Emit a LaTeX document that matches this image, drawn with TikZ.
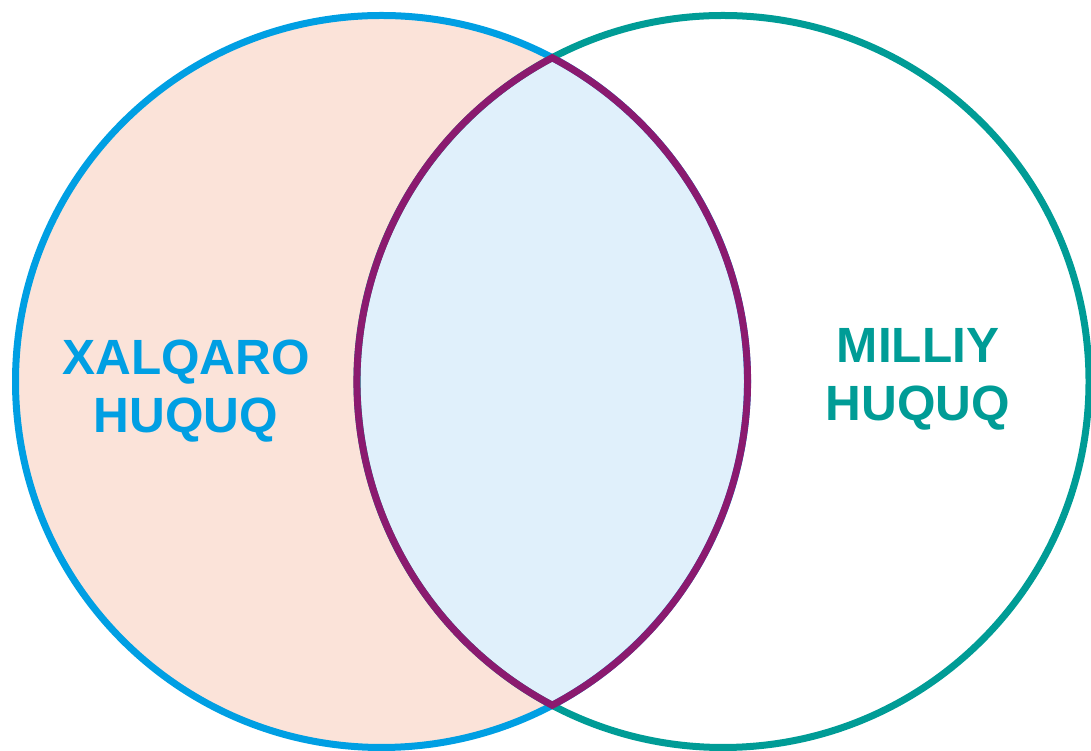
\documentclass[tikz,border=0pt]{standalone}
\usepackage{fontspec}
\setmainfont{Liberation Sans}
\definecolor{lblue}{HTML}{009FE3}
\definecolor{lteal}{HTML}{009C96}
\definecolor{lpurple}{HTML}{8B1A6F}
\definecolor{lpeach}{HTML}{FBE3D9}
\definecolor{llens}{HTML}{E0F0FB}
\tikzset{
  ring/.style={line width=7pt},
  label/.style={font=\fontsize{49.5}{58}\selectfont\bfseries, align=center, inner sep=0pt},
}
\begin{document}
\begin{tikzpicture}[x=1pt,y=1pt]
\useasboundingbox (0,0) rectangle (1091,751);
\clip (0,0) rectangle (1091,751);
\coordinate (cl) at (381.5,369.5);
\coordinate (cr) at (723,369.5);
\coordinate (top) at (552.25,693.2);
% fills
\fill[lpeach] (cl) circle[radius=366pt];
\fill[llens] (top) arc[start angle=117.81, end angle=242.19, radius=366pt]
  arc[start angle=-62.19, end angle=62.19, radius=366pt] -- cycle;
% outlines
\draw[ring, lblue] (cl) circle[radius=366pt];
\draw[ring, lteal] (cr) circle[radius=366pt];
\draw[ring, lpurple, line join=miter] (top) arc[start angle=117.81, end angle=242.19, radius=366pt]
  arc[start angle=-62.19, end angle=62.19, radius=366pt] -- cycle;
% labels
\node[label, text=lblue] (xalqaro) at (186,360) {XALQARO\\HUQUQ};
\node[label, text=lteal] (milliy) at (918,372) {MILLIY\\HUQUQ};
\end{tikzpicture}
\end{document}
